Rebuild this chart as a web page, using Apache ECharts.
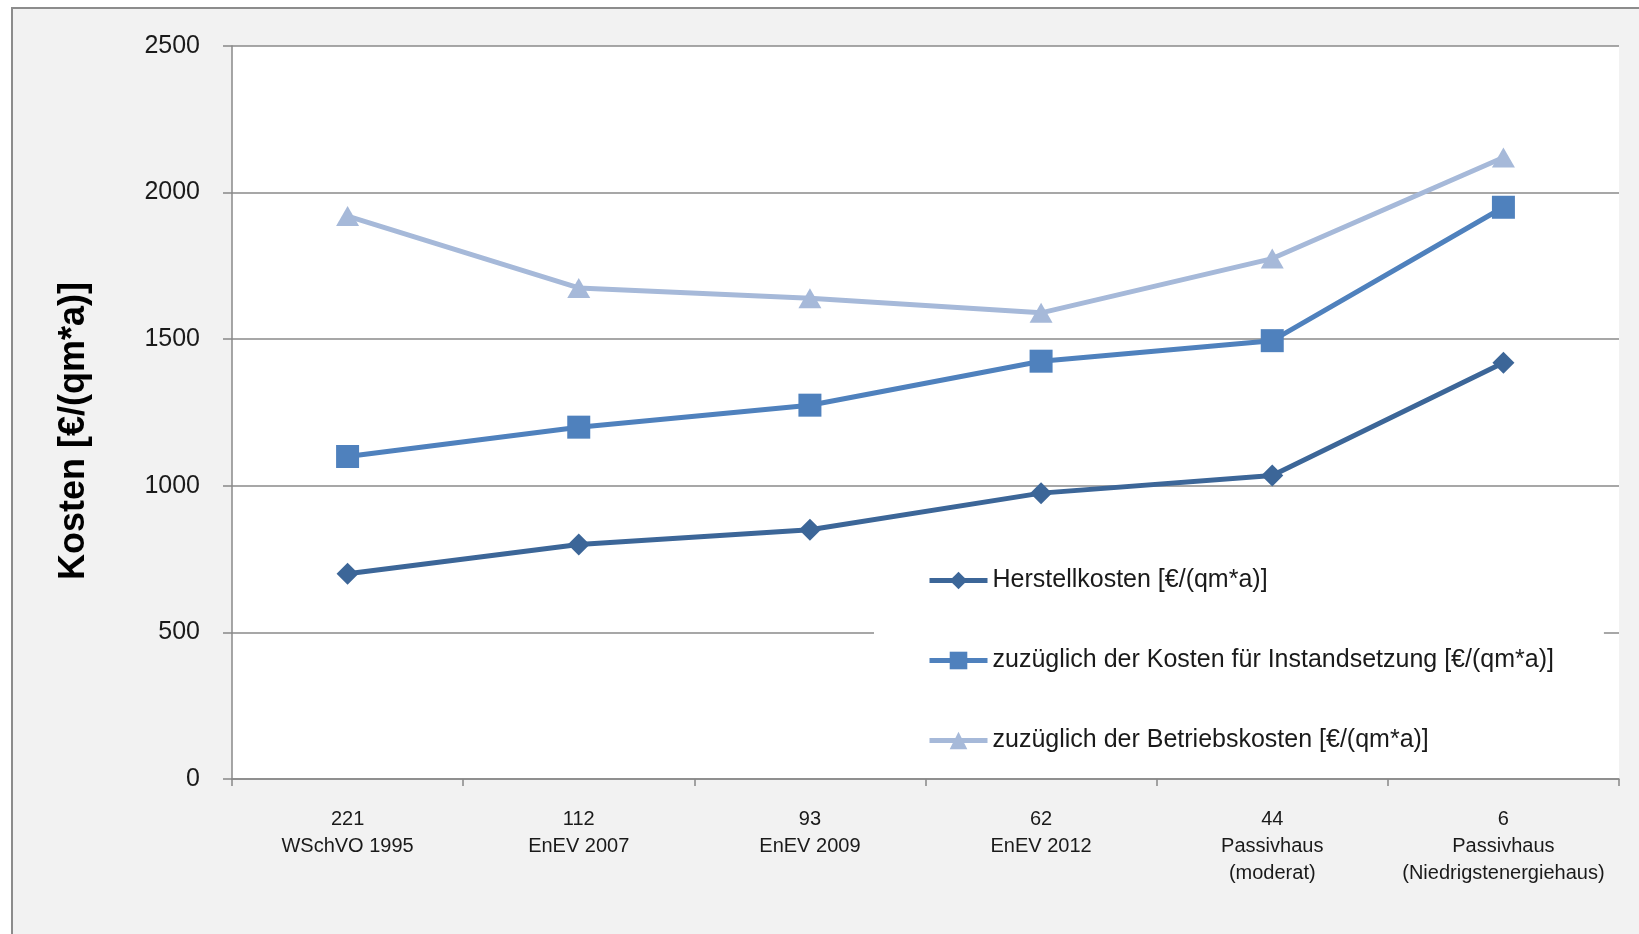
<!DOCTYPE html>
<html>
<head>
<meta charset="utf-8">
<script src="https://cdn.jsdelivr.net/npm/echarts@6/dist/echarts.min.js"></script>
<style>
html,body{margin:0;padding:0;background:#fff;}
#chart{width:1639px;height:934px;}
</style>
</head>
<body>
<div id="chart"></div>
<script>
// ---- data ----
const energyValues = ["221", "112", "93", "62", "44", "6"];
const standards = ["WSchVO 1995", "EnEV 2007", "EnEV 2009", "EnEV 2012", "Passivhaus\n(moderat)", "Passivhaus\n(Niedrigstenergiehaus)"];
const seriesNames = [
  "Herstellkosten [€/(qm*a)]",
  "zuzüglich der Kosten für Instandsetzung [€/(qm*a)]",
  "zuzüglich der Betriebskosten [€/(qm*a)]"
];
const herstellkosten = [700, 800, 850, 975, 1035, 1420];
const instandsetzung = [1100, 1200, 1275, 1425, 1495, 1950];
const betriebskosten = [1920, 1675, 1640, 1590, 1775, 2120];
const yTicks = [0, 500, 1000, 1500, 2000, 2500];
const yTitle = "Kosten [€/(qm*a)]";

const categories = energyValues.map((v, i) => v + "\n" + standards[i]);
const FONT = "Liberation Sans, Arial, sans-serif";

const chart = echarts.init(document.getElementById('chart'), null, {renderer: 'canvas'});
chart.setOption({
  animation: false,
  backgroundColor: '#ffffff',
  graphic: [
    {
      type: 'rect', z: -10, silent: true,
      shape: {x: 12, y: 8, width: 1700, height: 1000},
      style: {fill: '#f2f2f2', stroke: '#8c8c8c', lineWidth: 2}
    },
    {
      type: 'text', silent: true,
      x: 74, y: 431, rotation: Math.PI / 2,
      style: {
        text: yTitle, fill: '#000', font: 'bold 36px ' + FONT,
        align: 'center', verticalAlign: 'middle'
      }
    }
  ],
  grid: {
    left: 232, right: 20, top: 46, bottom: 155,
    show: true, backgroundColor: '#ffffff', borderWidth: 0
  },
  legend: {
    orient: 'vertical',
    left: 874, top: 538,
    padding: [30, 50, 18, 53],
    backgroundColor: '#ffffff',
    itemGap: 55,
    itemWidth: 58,
    itemHeight: 22,
    data: seriesNames,
    lineStyle: {width: 5},
    itemStyle: {},
    textStyle: {fontFamily: FONT, fontSize: 25, color: '#1a1a1a'}
  },
  xAxis: {
    type: 'category',
    data: categories,
    boundaryGap: true,
    axisLine: {show: true, lineStyle: {color: '#888', width: 1.5}},
    axisTick: {show: true, length: 7, lineStyle: {color: '#888', width: 1.5}},
    axisLabel: {
      interval: 0, margin: 27,
      fontFamily: FONT, fontSize: 20, lineHeight: 27, color: '#1a1a1a'
    }
  },
  yAxis: {
    type: 'value',
    min: yTicks[0], max: yTicks[yTicks.length - 1], interval: 500,
    axisLine: {show: true, lineStyle: {color: '#888', width: 1.5}},
    axisTick: {show: true, length: 9, lineStyle: {color: '#888', width: 1.5}},
    splitLine: {show: true, lineStyle: {color: '#8a8a8a', width: 1.5}},
    axisLabel: {
      margin: 32, fontFamily: FONT, fontSize: 25, color: '#1a1a1a',
      formatter: v => String(v)
    }
  },
  series: [
    {
      name: seriesNames[0], type: 'line', data: herstellkosten,
      symbol: 'diamond', symbolSize: 22,
      lineStyle: {width: 5, color: '#3c6698'},
      itemStyle: {color: '#3c6698'}
    },
    {
      name: seriesNames[1], type: 'line', data: instandsetzung,
      symbol: 'rect', symbolSize: 23,
      lineStyle: {width: 5, color: '#4f81bd'},
      itemStyle: {color: '#4f81bd'}
    },
    {
      name: seriesNames[2], type: 'line', data: betriebskosten,
      symbol: 'triangle', symbolSize: [23, 20],
      lineStyle: {width: 5, color: '#a6b9d9'},
      itemStyle: {color: '#a6b9d9'}
    }
  ]
});
</script>
</body>
</html>
